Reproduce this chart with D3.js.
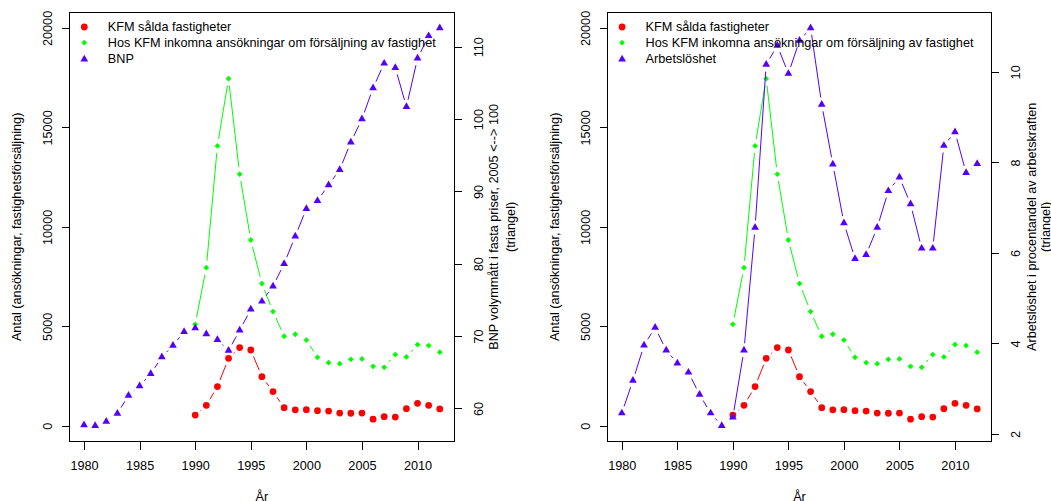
<!DOCTYPE html>
<html>
<head>
<meta charset="utf-8">
<style>
  body { margin: 0; background: #fff; }
  svg text { font-family: "Liberation Sans", Arial, Helvetica, sans-serif; font-size: 12.7px; fill: #000; }
  .frame { stroke: #000; stroke-width: 1px; fill: none; shape-rendering: crispEdges; }
  .tick line { shape-rendering: crispEdges; }
</style>
<script src="https://cdnjs.cloudflare.com/ajax/libs/d3/7.8.5/d3.min.js"></script>
</head>
<body>
<div id="chart"></div>
<script>
// years
var years80 = [1980, 1981, 1982, 1983, 1984, 1985, 1986, 1987, 1988, 1989, 1990,
               1991, 1992, 1993, 1994, 1995, 1996, 1997, 1998, 1999, 2000, 2001,
               2002, 2003, 2004, 2005, 2006, 2007, 2008, 2009, 2010, 2011, 2012];
var years90 = [1990, 1991, 1992, 1993, 1994, 1995, 1996, 1997, 1998, 1999, 2000,
               2001, 2002, 2003, 2004, 2005, 2006, 2007, 2008, 2009, 2010, 2011, 2012];

// KFM sålda fastigheter
var salda = [540, 1030, 1970, 3390, 3930, 3810, 2470, 1720, 910, 800, 810,
             760, 740, 640, 630, 640, 330, 460, 440, 860, 1130, 1030, 850];
// Hos KFM inkomna ansökningar
var ansokningar = [5100, 7950, 14070, 17450, 12650, 9340, 7150, 5740, 4500, 4600, 4310,
                   3440, 3170, 3120, 3340, 3360, 2990, 2940, 3580, 3460, 4080, 4030, 3700];
// BNP, 2005 = 100
var bnp = [57.7, 57.6, 58.2, 59.3, 61.8, 63.1, 64.8, 67.1, 68.7, 70.6, 71.1,
           70.3, 69.5, 68.0, 70.8, 73.7, 74.8, 76.9, 80.0, 83.8, 87.6, 88.7,
           90.9, 93.0, 96.8, 100.0, 104.3, 107.7, 107.1, 101.7, 108.4, 111.5, 112.6];
// Arbetslöshet, procent
var arbetsloshet = [2.46, 3.18, 3.96, 4.35, 3.85, 3.56, 3.36, 2.87, 2.46, 2.18, 2.37,
                    3.85, 6.56, 10.16, 10.58, 9.96, 10.69, 10.97, 9.28, 7.96, 6.66, 5.87,
                    5.96, 6.56, 7.37, 7.67, 7.08, 6.10, 6.10, 8.37, 8.67, 7.77, 7.97];

var xTicks = [1980, 1985, 1990, 1995, 2000, 2005, 2010];
var yTicks = [0, 5000, 10000, 15000, 20000];
var bnpTicks = [60, 70, 80, 90, 100, 110];
var arbTicks = [2, 4, 6, 8, 10];

var legendLabels = ["KFM sålda fastigheter", "Hos KFM inkomna ansökningar om försäljning av fastighet"];

var width = 1051, height = 501;
var plotTop = 12, plotBottom = 441.7;
var colRed = "#ff0000", colGreen = "#00ff00", colBlue = "#5500ff";

var svg = d3.select("#chart").append("svg")
    .attr("width", width)
    .attr("height", height);

// R style 4% axis padding
function pad(ext) {
    var d = (ext[1] - ext[0]) * 0.04;
    return [ext[0] - d, ext[1] + d];
}

var circlePath = d3.symbol().type(d3.symbolCircle).size(36)();
var trianglePath = d3.symbol().type(d3.symbolTriangle).size(26)();
var diamondPath = "M0,-2.9L2.9,0L0,2.9L-2.9,0Z";

// lines broken around the points, like type = "b"
function gapLines(g, pts, color) {
    var gap = 7;
    for (var i = 1; i < pts.length; i++) {
        var a = pts[i - 1], b = pts[i];
        var dx = b[0] - a[0], dy = b[1] - a[1];
        var f = gap / Math.hypot(dx, dy);
        if (f < 0.5) {
            g.append("line")
                .attr("x1", a[0] + f * dx).attr("y1", a[1] + f * dy)
                .attr("x2", b[0] - f * dx).attr("y2", b[1] - f * dy)
                .attr("stroke", color).attr("stroke-width", 1);
        }
    }
}

function series(g, xs, ys, x, y, color, path) {
    var pts = xs.map(function(d, i) { return [x(d), y(ys[i])]; });
    gapLines(g, pts, color);
    g.selectAll(null).data(pts).enter().append("path")
        .attr("d", path)
        .attr("fill", color)
        .attr("transform", function(d) { return "translate(" + d[0] + "," + d[1] + ")"; });
}

function rotLabels(axisG, dx) {
    axisG.selectAll(".tick text")
        .attr("x", null).attr("y", 0).attr("dy", "0.35em")
        .attr("text-anchor", "middle")
        .attr("transform", "translate(" + dx + ",0) rotate(-90)");
}

function drawPanel(p) {
    var g = svg.append("g");
    var x = d3.scaleLinear().domain(pad([1980, 2012])).range([p.left, p.right]);
    var y = d3.scaleLinear().domain(pad([0, 20000])).range([plotBottom, plotTop]);
    var y2 = d3.scaleLinear().domain(pad(d3.extent(p.rightValues))).range([plotBottom, plotTop]);

    series(g, years90, salda, x, y, colRed, circlePath);
    series(g, years90, ansokningar, x, y, colGreen, diamondPath);
    series(g, years80, p.rightValues, x, y2, colBlue, trianglePath);

    g.append("rect").attr("class", "frame")
        .attr("x", p.left).attr("y", plotTop)
        .attr("width", p.right - p.left).attr("height", plotBottom - plotTop);

    var ax = g.append("g").attr("transform", "translate(0," + plotBottom + ")")
        .call(d3.axisBottom(x).tickValues(xTicks).tickFormat(d3.format("d"))
            .tickSize(8).tickSizeOuter(0));
    ax.select(".domain").remove();
    ax.selectAll(".tick text").attr("dy", "0.35em").attr("y", 24);

    var ayl = g.append("g").attr("transform", "translate(" + p.left + ",0)")
        .call(d3.axisLeft(y).tickValues(yTicks).tickFormat(d3.format("d"))
            .tickSize(8).tickSizeOuter(0));
    ayl.select(".domain").remove();
    rotLabels(ayl, -22.5);

    var ayr = g.append("g").attr("transform", "translate(" + p.right + ",0)")
        .call(d3.axisRight(y2).tickValues(p.rightTicks).tickFormat(d3.format("d"))
            .tickSize(8).tickSizeOuter(0));
    ayr.select(".domain").remove();
    rotLabels(ayr, 24.5);

    var midY = (plotTop + plotBottom) / 2;
    g.append("text")
        .attr("transform", "translate(" + (p.left - 53) + "," + midY + ") rotate(-90)")
        .attr("dy", "0.35em").attr("text-anchor", "middle")
        .text("Antal (ansökningar, fastighetsförsäljning)");
    p.rightTitle.forEach(function(t, i) {
        g.append("text")
            .attr("transform", "translate(" + (p.right + p.titleOffsets[i]) + "," + midY + ") rotate(-90)")
            .attr("dy", "0.35em").attr("text-anchor", "middle")
            .text(t);
    });
    g.append("text")
        .attr("x", (p.left + p.right) / 2).attr("y", 501)
        .attr("text-anchor", "middle")
        .text("År");

    // legend
    var labels = legendLabels.concat([p.rightName]);
    var cols = [colRed, colGreen, colBlue];
    var paths = [circlePath, diamondPath, trianglePath];
    var rowY = [27, 42.7, 58.3];
    labels.forEach(function(t, i) {
        g.append("path").attr("d", paths[i]).attr("fill", cols[i])
            .attr("transform", "translate(" + (p.left + 14.5) + "," + (rowY[i] + (i == 2 ? 1 : 0)) + ")");
        g.append("text").attr("x", p.left + 38).attr("y", rowY[i]).attr("dy", "0.35em").text(t);
    });
}

drawPanel({
    left: 69.8, right: 454,
    rightValues: bnp, rightTicks: bnpTicks, rightName: "BNP",
    rightTitle: ["BNP volymmått i fasta priser, 2005 <--> 100", "(triangel)"],
    titleOffsets: [40, 56.5]
});
drawPanel({
    left: 607.6, right: 991.4,
    rightValues: arbetsloshet, rightTicks: arbTicks, rightName: "Arbetslöshet",
    rightTitle: ["Arbetslöshet i procentandel av arbetskraften", "(triangel)"],
    titleOffsets: [39.8, 54.5]
});
</script>
</body>
</html>
